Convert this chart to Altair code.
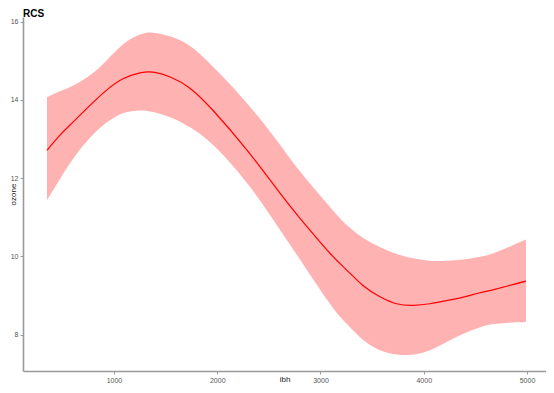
import altair as alt
import pandas as pd

ibh = [351, 477, 606, 768, 929, 1087, 1252, 1380, 1550, 1736, 1960, 2290, 2610, 2800,
       3092, 3254, 3414, 3576, 3738, 3899, 4060, 4222, 4383, 4545, 4706, 4990]
fit = [12.71, 13.10, 13.44, 13.86, 14.25, 14.54, 14.69, 14.71, 14.58, 14.30, 13.73, 12.71, 11.61, 10.98,
       10.08, 9.65, 9.25, 8.97, 8.79, 8.75, 8.79, 8.87, 8.96, 9.07, 9.17, 9.37]
upper = [14.07, 14.22, 14.37, 14.63, 15.01, 15.42, 15.67, 15.72, 15.62, 15.38, 14.85, 13.91, 12.85, 12.18,
         11.26, 10.80, 10.47, 10.24, 10.06, 9.95, 9.89, 9.89, 9.92, 9.99, 10.11, 10.43]
lower = [11.44, 11.98, 12.50, 13.03, 13.42, 13.66, 13.73, 13.69, 13.55, 13.30, 12.85, 11.87, 10.67, 9.93,
         8.79, 8.28, 7.86, 7.60, 7.49, 7.49, 7.60, 7.81, 8.02, 8.19, 8.28, 8.32]

df = pd.DataFrame({"ibh": ibh, "fit": fit, "upper": upper, "lower": lower})

xscale = alt.Scale(domain=[119, 5184], nice=False, zero=False)
yscale = alt.Scale(domain=[7.07, 16.12], nice=False, zero=False)

xaxis = alt.Axis(title="ibh", values=[1000, 2000, 3000, 4000, 5000], format="d",
                 titleY=4, titleBaseline="top", titleFontWeight="normal", titleFontSize=8,
                 titleColor="#222")
yaxis = alt.Axis(title="ozone", values=[8, 10, 12, 14, 16], titleX=-10, titleBaseline="middle",
                 titleFontWeight="normal", titleFontSize=8, titleColor="#222")

band = alt.Chart(df).mark_area(color="#FF0000", opacity=0.3, interpolate="natural").encode(
    x=alt.X("ibh:Q", scale=xscale, axis=xaxis),
    y=alt.Y("lower:Q", scale=yscale, axis=yaxis),
    y2="upper:Q",
)
line = alt.Chart(df).mark_line(color="#FF0000", strokeWidth=1.2, interpolate="natural").encode(
    x=alt.X("ibh:Q", scale=xscale),
    y=alt.Y("fit:Q", scale=yscale),
)

chart = (band + line).properties(
    width=523, height=354,
    title=alt.TitleParams("RCS", anchor="start", frame="group", fontSize=10, fontWeight="bold",
                          font="Liberation Sans", offset=-2, color="#000"),
    autosize=alt.AutoSizeParams(type="none"),
    padding={"left": 15, "top": 9, "right": 0, "bottom": 14},
).configure_view(stroke=None).configure_axis(
    grid=False, domainColor="#9a9a9a", domainWidth=1.6, tickColor="#9a9a9a",
    tickSize=3, labelColor="#555", labelFontSize=7, labelFont="Liberation Sans",
    titleFont="Liberation Sans", labelPadding=2,
)

chart.save("out.html", embed_options={"renderer": "svg", "actions": False})
